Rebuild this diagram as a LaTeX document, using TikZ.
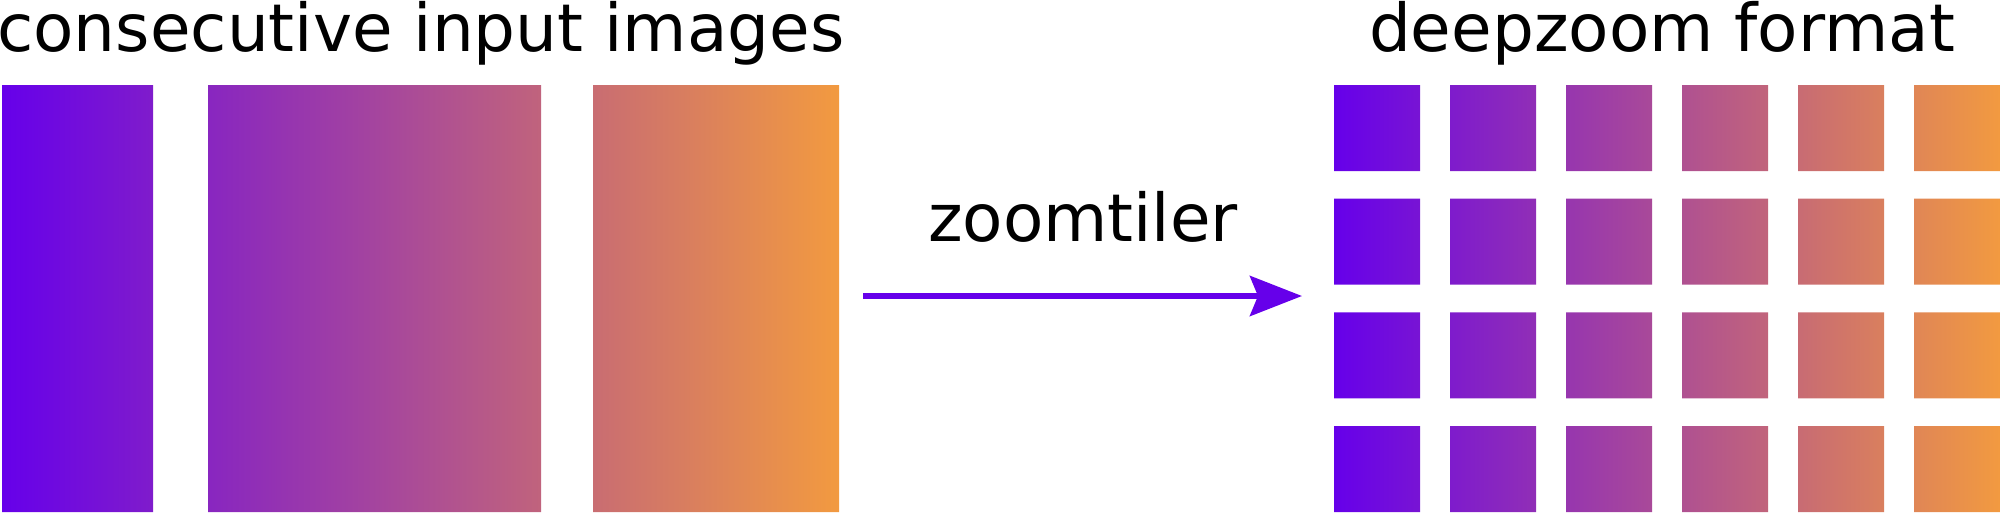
\documentclass[tikz,border=0pt]{standalone}
\usepackage{fontspec}
\setmainfont{DejaVu Sans}
\usetikzlibrary{arrows.meta}
\definecolor{gstart}{RGB}{102,0,234}
\definecolor{gend}{RGB}{242,154,64}
\tikzset{
  title/.style={inner sep=0pt, font=\fontsize{66}{79}\selectfont},
  flow/.style={draw=gstart, line width=6pt, -{Stealth[length=52pt, width=40pt, inset=8pt]}},
}
\begin{document}
\begin{tikzpicture}[x=1pt, y=-1pt]
\useasboundingbox (0,0) rectangle (2000,512);
% input images
\begin{scope}
  \clip (2,85) rectangle (153,512) (208,85) rectangle (541,512) (593,85) rectangle (839,512);
  \shade[left color=gstart, right color=gend] (2,85) rectangle (839,512);
\end{scope}
% deepzoom tiles
\begin{scope}
  \clip
  \foreach \c in {0,...,5}{
    \foreach \r in {0,...,3}{
      ({1334+116*\c},{85+113.67*\r}) rectangle ++(86,86)
    }
  };
  \shade[left color=gstart, right color=gend] (1334,85) rectangle (2000,512);
\end{scope}
\node[title, anchor=base west] (tin) at (-3,51) {consecutive input images};
\node[title, anchor=base] (tout) at (1662,51) {deepzoom format};
\node[title, anchor=base] (lab) at (1083,241) {zoomtiler};
\coordinate (a) at (863,296);
\coordinate (b) at (1302,296);
\draw[flow] (a) -- (b);
\end{tikzpicture}
\end{document}
